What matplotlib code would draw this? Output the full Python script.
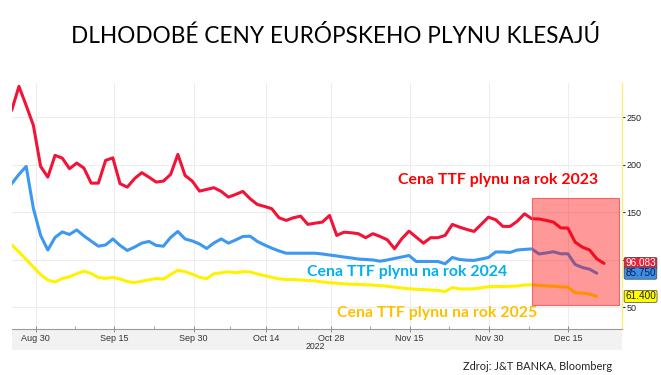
import matplotlib
matplotlib.use("Agg")
import matplotlib.pyplot as plt
from matplotlib.patches import Rectangle
from matplotlib import font_manager
import numpy as np

# ---------------- data ----------------
title = "DLHODOBÉ CENY EURÓPSKEHO PLYNU KLESAJÚ"
source = "Zdroj: J&T BANKA, Bloomberg"

ttf_2023 = [257.1, 282.3, 262.2, 241.3, 198.1, 186.8, 209.7, 206.8, 195.7, 201.6,
            196.3, 180.5, 180.5, 204.4, 207.1, 179.9, 176.3, 185.2, 191.5, 186.8,
            181.6, 182.6, 189.7, 210.7, 188.6, 182.6, 172.1, 173.9, 175.7, 171.8,
            165.8, 168.6, 171.8, 164.1, 158.1, 156.0, 153.6, 144.1, 141.3, 144.1,
            145.8, 137.1, 138.4, 139.5, 146.5, 125.5, 128.9, 128.3, 127.3, 123.1,
            127.3, 124.4, 120.9, 111.5, 122.0, 130.0, 123.7, 117.4, 123.1, 123.1,
            125.5, 137.1, 134.2, 131.8, 129.7, 137.1, 144.7, 142.0, 135.0, 135.0,
            140.5, 148.3, 143.0, 142.8, 141.3, 139.5, 133.4, 133.2, 118.4, 113.2,
            110.2, 100.9, 96.083]

ttf_2024 = [179.9, 189.7, 198.1, 153.9, 125.5, 110.2, 123.4, 129.2, 126.5, 131.3,
            125.0, 119.5, 114.2, 115.5, 121.8, 115.0, 109.7, 113.2, 117.4, 119.2,
            115.0, 114.2, 123.4, 129.7, 121.8, 119.7, 116.5, 111.8, 117.6, 121.8,
            117.4, 120.7, 124.4, 124.7, 119.2, 115.5, 112.1, 109.2, 106.8, 106.8,
            106.8, 106.8, 106.8, 106.0, 104.9, 103.9, 102.8, 101.8, 100.7, 100.2,
            99.7, 98.4, 99.7, 101.3, 102.8, 104.4, 98.1, 98.1, 98.1, 98.1,
            95.7, 102.3, 100.2, 99.5, 99.2, 100.7, 102.3, 108.1, 108.1, 107.6,
            110.2, 110.8, 111.3, 106.0, 107.1, 108.3, 106.2, 106.2, 95.0, 91.8,
            90.0, 85.75]

ttf_2025 = [115.7, 108.1, 100.2, 92.3, 84.4, 78.6, 76.5, 80.2, 82.0, 85.2,
            88.0, 85.5, 81.3, 80.4, 81.3, 79.7, 77.1, 75.8, 77.4, 78.8,
            80.2, 79.5, 84.4, 88.8, 87.4, 84.7, 81.5, 80.0, 85.2, 86.2,
            87.3, 86.2, 87.4, 87.1, 85.0, 83.2, 81.5, 79.8, 79.2, 79.2,
            78.6, 78.1, 77.6, 76.5, 75.7, 75.3, 74.6, 74.2, 73.9, 73.6,
            73.2, 72.8, 72.0, 71.2, 70.2, 69.4, 68.9, 68.6, 68.1, 67.6,
            66.5, 70.7, 69.2, 69.2, 69.4, 70.4, 71.5, 71.8, 71.8, 72.0,
            72.3, 73.4, 73.6, 73.0, 72.5, 72.1, 71.3, 71.1, 65.2, 64.9,
            63.9, 61.4]

x_tick_labels = ["Aug 30", "Sep 15", "Sep 30", "Oct 14", "Oct 28", "Nov 15", "Nov 30", "Dec 15"]
x_tick_pos = [3.3, 14.2, 25.2, 35.2, 44.2, 55.1, 66.1, 77.0]
year_label = "2022"
y_ticks = [50, 100, 150, 200, 250]

series_labels = ["Cena TTF plynu na rok 2023", "Cena TTF plynu na rok 2024", "Cena TTF plynu na rok 2025"]
last_labels = ["96.083", "85.750", "61.400"]

# highlighted window (index range, value range)
shade_x = [72.0, 84.1]
shade_y = [52.5, 164.7]

# ---------------- style ----------------
RED = "#F01438"
BLUE = "#3D98F0"
YELLOW = "#FFF200"
names = {f.name for f in font_manager.fontManager.ttflist}
narrow = "Liberation Sans Narrow" if "Liberation Sans Narrow" in names else "Liberation Sans"

W, H = 661, 375
fig = plt.figure(figsize=(W / 100, H / 100), dpi=100)
L, R, B, T = 11.5 / W, 621.7 / W, 1 - 328.8 / H, 1 - 83.3 / H
ax = fig.add_axes([L, B, R - L, T - B])

# gray band under the axis
band = Rectangle((L, 1 - 350 / H), R - L, (350 - 328.8) / H,
                 transform=fig.transFigure, facecolor="#F2F2F2",
                 edgecolor="none", zorder=-5)
fig.patches.append(band)

for vals, col in [(ttf_2025, YELLOW), (ttf_2024, BLUE), (ttf_2023, RED)]:
    ax.plot(np.arange(len(vals)), vals, color=col, lw=2.2,
            solid_joinstyle="round", solid_capstyle="round", zorder=3)

ax.add_patch(Rectangle((shade_x[0], shade_y[0]), shade_x[1] - shade_x[0],
                       shade_y[1] - shade_y[0], facecolor=(1, 0, 0, 0.4),
                       edgecolor=(0.95, 0.3, 0.3, 0.8), lw=0.8, zorder=4))

ax.set_xlim(-0.03, 84.45)
ax.set_ylim(27.3, 285.5)
ax.patch.set_alpha(0)

ax.set_xticks(x_tick_pos)
ax.set_xticklabels(x_tick_labels, fontsize=6.5, family=narrow, color="#333333")
minor = [(a + b) / 2 for a, b in zip(x_tick_pos[:-1], x_tick_pos[1:])]
ax.set_xticks(minor, minor=True)
ax.set_yticks(y_ticks)
ax.yaxis.tick_right()
ax.set_yticklabels([str(v) for v in y_ticks], fontsize=6.5, family=narrow, color="#222222")
ax.tick_params(axis="y", length=2.5, width=0.8, pad=1, color="#333333")
ax.tick_params(axis="x", which="major", direction="inout", length=4, width=0.6, pad=1.5, color="#777777")
ax.tick_params(axis="x", which="minor", direction="in", length=2, width=0.6, color="#999999")
ax.grid(True, which="major", color="#EDEDED", lw=0.8, zorder=0)
ax.set_axisbelow(True)
for s in ["top", "left"]:
    ax.spines[s].set_visible(False)
ax.spines["right"].set_color("#F6F07A")
ax.spines["right"].set_linewidth(1.0)
ax.spines["bottom"].set_color("#9A9A9A")
ax.spines["bottom"].set_linewidth(0.8)

fig.text(315 / W, 1 - 346.5 / H, year_label, ha="center", va="center",
         fontsize=6.3, family=narrow, color="#333333")

# title
fig.text(335.5 / W, 1 - 36 / H, title, ha="center", va="center", fontsize=16.3,
         family=["Lato", "DejaVu Sans"], color="black")

# series labels
lab_font = ["Lato", "DejaVu Sans"]
fig.text(398 / W, 1 - 180 / H, series_labels[0], ha="left", va="center", fontsize=11.4,
         family=lab_font, fontweight="bold", color="#FF0000")
fig.text(307 / W, 1 - 271.7 / H, series_labels[1], ha="left", va="center", fontsize=11.4,
         family=lab_font, fontweight="bold", color="#00B0F0")
fig.text(337 / W, 1 - 312.7 / H, series_labels[2], ha="left", va="center", fontsize=11.4,
         family=lab_font, fontweight="bold", color="#FFC000")

# last value tags
for txt, vals, fc, tc in [(last_labels[0], ttf_2023, "#E8203A", "white"),
                          (last_labels[1], ttf_2024, "#3D8FE6", "#0A1E50"),
                          (last_labels[2], ttf_2025, "#FFFF00", "#222222")]:
    ax.annotate(txt, xy=(1.0, vals[-1]), xycoords=("axes fraction", "data"),
                xytext=(2.5, 0), textcoords="offset points", ha="left", va="center",
                fontsize=7.2, family=narrow, color=tc, zorder=6, annotation_clip=False,
                bbox=dict(boxstyle="round,pad=0.1,rounding_size=0.15", fc=fc,
                          ec="#444444", lw=0.5))

fig.text(612 / W, 1 - 367 / H, source, ha="right", va="center", fontsize=7.9,
         family=["Lato", "DejaVu Sans"], color="#222222")

fig.savefig("out.png", dpi=100)
